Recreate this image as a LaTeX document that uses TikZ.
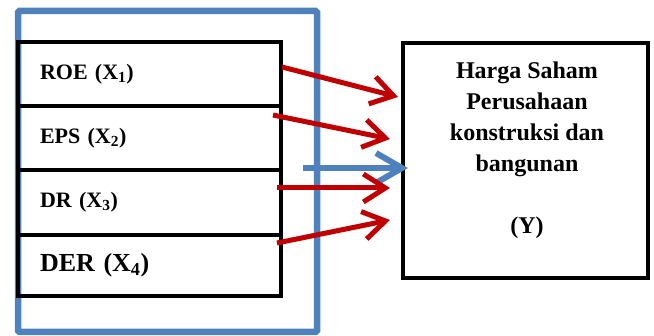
\documentclass[tikz,border=0pt]{standalone}
\usepackage{fontspec}
\setmainfont{Liberation Serif}
\usetikzlibrary{arrows.meta}
\definecolor{bblue}{RGB}{79,129,189}
\definecolor{rred}{RGB}{192,0,0}
\tikzset{
  rowbox/.style={draw=black, line width=4pt, minimum width=263pt, inner xsep=22pt, text width=219pt, align=left, inner ysep=0pt, font=\bfseries\fontsize{22}{26}\selectfont},
  redarrow/.style={draw=rred, line width=5pt, -{Straight Barb[length=22pt,width=28pt]}},
  bluearrow/.style={draw=bblue, line width=6pt, -{Straight Barb[length=26pt,width=30pt]}},
}
\begin{document}
\begin{tikzpicture}[x=1pt,y=-1pt]
\useasboundingbox (0,0) rectangle (654,336);
% outer blue frame
\node[draw=bblue, line width=6.5pt, rounded corners=1.5pt, minimum width=299pt, minimum height=321pt, inner sep=0pt] (frame) at (167.5,171.5) {};
% rows
\node[rowbox, minimum height=64pt] (roe) at (149.5,74) {ROE (X\textsubscript{1})};
\node[rowbox, minimum height=64pt] (eps) at (149.5,138) {EPS (X\textsubscript{2})};
\node[rowbox, minimum height=65pt] (dr) at (149.5,202.5) {DR (X\textsubscript{3})};
\node[rowbox, minimum height=61pt, font=\bfseries\fontsize{26}{30}\selectfont] (der) at (149.5,265.5) {DER (X\textsubscript{4})};
% target box
\node[draw=black, line width=4pt, minimum width=245pt, minimum height=235pt, inner sep=0pt] (y) at (525.5,160.5) {};
\node[font=\bfseries\fontsize{24}{31}\selectfont, align=center, inner sep=0pt] (ytext) at (527,150) {Harga Saham\\Perusahaan\\konstruksi dan\\bangunan\\[31pt](Y)};
% connector coordinates
\coordinate (s1) at (282,67);
\coordinate (t1) at (398,97);
\coordinate (s2) at (273,115);
\coordinate (t2) at (390,139);
\coordinate (sb) at (303,168);
\coordinate (tb) at (408,168);
\coordinate (s3) at (277,188);
\coordinate (t3) at (390,188);
\coordinate (s4) at (277,243);
\coordinate (t4) at (390,220);
\draw[bluearrow] (sb) -- (tb);
\draw[redarrow] (s1) -- (t1);
\draw[redarrow] (s2) -- (t2);
\draw[redarrow] (s3) -- (t3);
\draw[redarrow] (s4) -- (t4);
\end{tikzpicture}
\end{document}
